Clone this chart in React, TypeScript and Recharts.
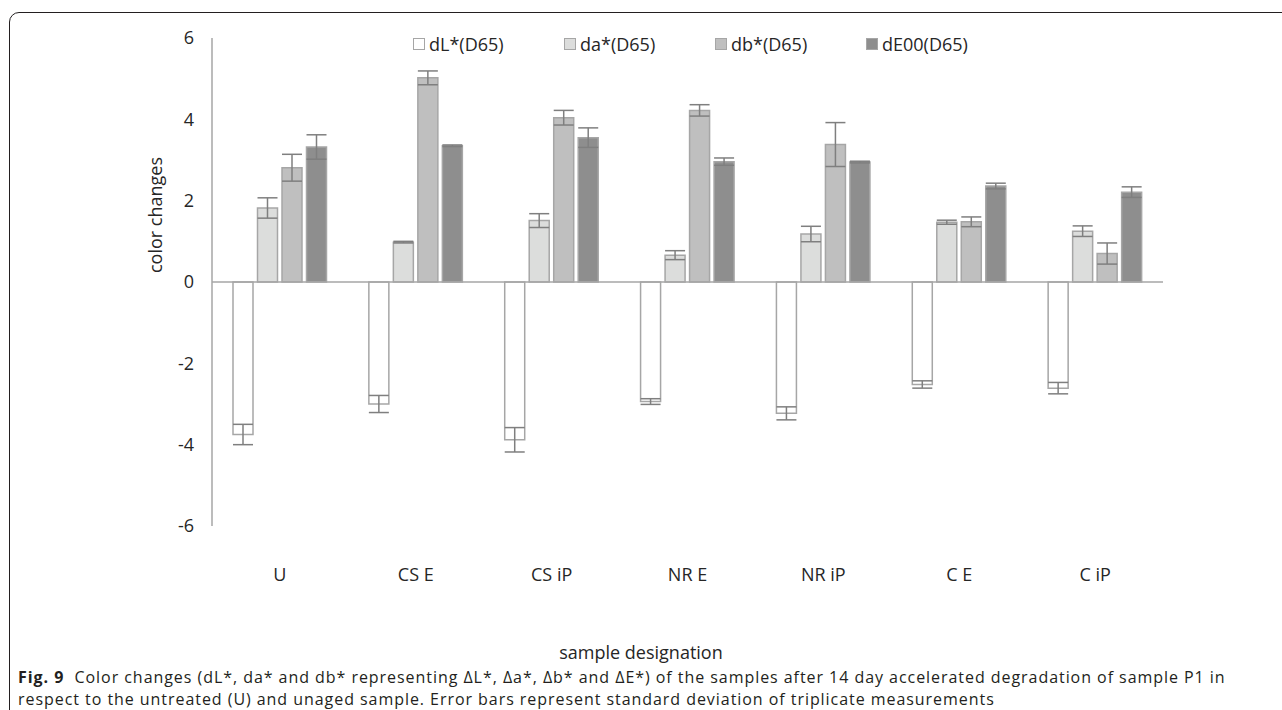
import React from 'react';
import { BarChart, Bar, XAxis, YAxis, ReferenceLine, ErrorBar, Label } from 'recharts';

const categories = ['U', 'CS E', 'CS iP', 'NR E', 'NR iP', 'C E', 'C iP'];
const dL = [-3.75, -3.0, -3.88, -2.94, -3.23, -2.52, -2.61];
const dLErr = [0.25, 0.21, 0.3, 0.07, 0.16, 0.09, 0.14];
const da = [1.82, 0.98, 1.51, 0.66, 1.18, 1.47, 1.25];
const daErr = [0.25, 0.02, 0.17, 0.11, 0.19, 0.05, 0.13];
const db = [2.81, 5.02, 4.04, 4.22, 3.38, 1.48, 0.7];
const dbErr = [0.33, 0.17, 0.18, 0.14, 0.54, 0.12, 0.26];
const dE = [3.32, 3.35, 3.55, 2.96, 2.95, 2.36, 2.21];
const dEErr = [0.3, 0.02, 0.24, 0.09, 0.02, 0.07, 0.13];
const yTicks = [-6, -4, -2, 0, 2, 4, 6];

const series = [
  { key: 'dL', name: 'dL*(D65)', fill: '#ffffff' },
  { key: 'da', name: 'da*(D65)', fill: '#dcdddc' },
  { key: 'db', name: 'db*(D65)', fill: '#bfbfbf' },
  { key: 'dE', name: 'dE00(D65)', fill: '#8e8e8e' },
];

const data = categories.map((c, i) => ({
  name: c,
  dL: dL[i], dLErr: dLErr[i],
  da: da[i], daErr: daErr[i],
  db: db[i], dbErr: dbErr[i],
  dE: dE[i], dEErr: dEErr[i],
}));

const font = '"Open Sans", sans-serif';
const captionStyle: React.CSSProperties = {
  position: 'absolute', left: 18, width: 1262, fontSize: 16, letterSpacing: 0.95,
  lineHeight: '22px', color: '#231f20', whiteSpace: 'nowrap',
};

export default function App() {
  return (
    <div style={{ position: 'absolute', left: 0, top: 0, width: 1282, height: 710, overflow: 'hidden', background: '#fff', fontFamily: font }}>
      {/* figure frame */}
      <div style={{ position: 'absolute', left: 9, top: 12, width: 1300, height: 720, border: '1.3px solid #231f20', borderTopLeftRadius: 10 }} />

      <div style={{ position: 'absolute', left: 0, top: 0 }}>
        <BarChart width={1282} height={600} data={data} margin={{ top: 38, left: 152, right: 119, bottom: 14 }} barSize={20} barGap={4.5}>
          <XAxis dataKey="name" axisLine={false} tickLine={false} height={60} tickMargin={36}
            tick={{ fontSize: 18, fill: '#262626', fontFamily: font }} interval={0} />
          <YAxis domain={[-6, 6]} ticks={yTicks} width={60} tickLine={false} axisLine={{ stroke: '#a6a6a6', strokeWidth: 1.5 }}
            tickMargin={12} tick={{ fontSize: 18, fill: '#262626', fontFamily: font }} interval={0}>
            <Label content={() => (
              <text x={155} y={215} transform="rotate(-90 155 215)" textAnchor="middle" dominantBaseline="central"
                fontSize={18} fill="#262626" fontFamily={font}>color changes</text>
            )} />
          </YAxis>
          <ReferenceLine y={0} stroke="#a6a6a6" strokeWidth={1.5} />
          {series.map((s) => (
            <Bar key={s.key} dataKey={s.key} name={s.name} fill={s.fill} stroke="#a6a6a6" strokeWidth={1.5} isAnimationActive={false}>
              <ErrorBar dataKey={`${s.key}Err`} width={10} stroke="#7f7f7f" strokeWidth={1.5} />
            </Bar>
          ))}
        </BarChart>
      </div>

      {/* legend */}
      {series.map((s, i) => (
        <div key={s.key} style={{ position: 'absolute', left: 413 + i * 151, top: 32, display: 'flex', alignItems: 'center', fontSize: 18, color: '#262626' }}>
          <span style={{ display: 'inline-block', width: 10, height: 10, background: s.fill, border: '1.3px solid #a6a6a6', marginRight: 4 }} />
          <span>{s.name}</span>
        </div>
      ))}

      <div style={{ position: 'absolute', left: 0, width: 1282, top: 640, lineHeight: '24px', textAlign: 'center', fontSize: 18, color: '#262626' }}>
        sample designation
      </div>

      <div style={{ ...captionStyle, top: 666 }}>
        <b>Fig. 9</b>&nbsp; Color changes (dL*, da* and db* representing ΔL*, Δa*, Δb* and ΔE*) of the samples after 14 day accelerated degradation of sample P1 in
      </div>
      <div style={{ ...captionStyle, top: 688 }}>
        respect to the untreated (U) and unaged sample. Error bars represent standard deviation of triplicate measurements
      </div>
    </div>
  );
}
